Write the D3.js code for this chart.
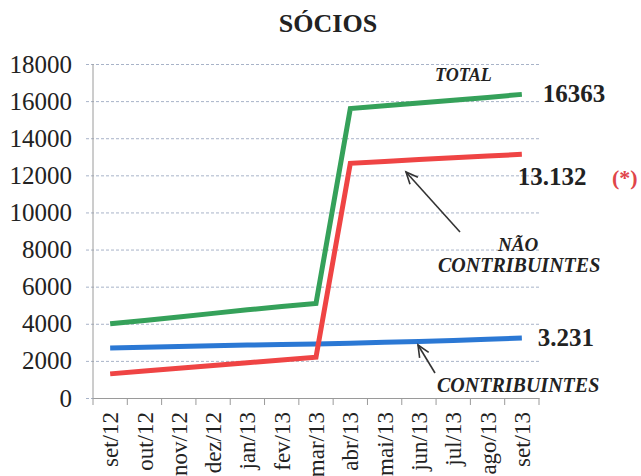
<!DOCTYPE html>
<html>
<head>
<meta charset="utf-8">
<script src="https://cdn.jsdelivr.net/npm/d3@7"></script>
<style>
  body { margin: 0; background: #fff; }
  svg { display: block; }
  svg text { font-family: "Liberation Serif", "Times New Roman", serif; }
</style>
</head>
<body>
<svg id="chart" width="641" height="476"></svg>
<script>
// months on the x axis
const months = ["set/12", "out/12", "nov/12", "dez/12", "jan/13", "fev/13", "mar/13",
  "abr/13", "mai/13", "jun/13", "jul/13", "ago/13", "set/13"];

// members per month
const total = [4000, 4180, 4370, 4560, 4750, 4930, 5100, 15600, 15750, 15900, 16050, 16200, 16363];
const naoContribuintes = [1300, 1450, 1600, 1750, 1900, 2050, 2200, 12650, 12750, 12850, 12950, 13040, 13132];
const contribuintes = [2700, 2730, 2770, 2810, 2850, 2880, 2910, 2950, 3000, 3050, 3100, 3160, 3231];

const yTicks = [0, 2000, 4000, 6000, 8000, 10000, 12000, 14000, 16000, 18000];
const endLabels = ["16363", "13.132", "3.231"];

const svg = d3.select("#chart");

const margin = { left: 93, right: 539, top: 64, bottom: 398 };

const x = d3.scaleBand().domain(months).range([margin.left, margin.right]).padding(0);
const y = d3.scaleLinear().domain([0, 18000]).range([margin.bottom, margin.top]);
const cx = (i) => x(months[i]) + x.bandwidth() / 2;

// title
svg.append("text")
  .attr("x", 328)
  .attr("y", 32)
  .attr("text-anchor", "middle")
  .style("font-size", "26px")
  .style("font-weight", "bold")
  .attr("fill", "#222")
  .text("SÓCIOS");

// gridlines + y labels
const yAxis = svg.append("g")
  .attr("transform", `translate(${margin.right},0)`)
  .call(d3.axisLeft(y).tickValues(yTicks).tickFormat(d3.format("d"))
    .tickSize(margin.right - 86).tickPadding(14));
yAxis.attr("font-family", null).attr("font-size", null);
yAxis.select(".domain").remove();
yAxis.selectAll(".tick line")
  .attr("stroke", "#a8b3c8")
  .attr("stroke-width", 1)
  .attr("stroke-dasharray", "3,2");
yAxis.selectAll(".tick text")
  .style("font-size", "25px")
  .attr("fill", "#222");

// vertical axis line
svg.append("line")
  .attr("x1", margin.left).attr("x2", margin.left)
  .attr("y1", y(18000)).attr("y2", y(0))
  .attr("stroke", "#9a9a9a");

// x axis
const xAxis = svg.append("g")
  .attr("transform", `translate(0,${margin.bottom})`)
  .call(d3.axisBottom(x).tickSize(0));
xAxis.attr("font-family", null).attr("font-size", null);
xAxis.select(".domain").attr("stroke", "#9a9a9a");
xAxis.selectAll(".tick text")
  .attr("transform", "rotate(-90)")
  .attr("x", -14)
  .attr("y", 0)
  .attr("dy", "0.35em")
  .style("text-anchor", "end")
  .style("font-size", "23px")
  .attr("fill", "#222");

// tick marks between months
svg.append("g")
  .selectAll("line")
  .data(months.concat(["end"]))
  .enter()
  .append("line")
  .attr("x1", (d, i) => margin.left + i * x.step())
  .attr("x2", (d, i) => margin.left + i * x.step())
  .attr("y1", margin.bottom)
  .attr("y2", margin.bottom + 7)
  .attr("stroke", "#9a9a9a");

// lines
const line = d3.line().x((d, i) => cx(i)).y((d) => y(d));

const series = [
  { values: contribuintes, color: "#2b78d4" },
  { values: naoContribuintes, color: "#ef4444" },
  { values: total, color: "#35a15a" },
];

series.forEach((s) => {
  svg.append("path")
    .datum(s.values)
    .attr("fill", "none")
    .attr("stroke", s.color)
    .attr("stroke-width", 5)
    .attr("stroke-linejoin", "miter")
    .attr("d", line);
});

// annotations
const last = months.length - 1;

function label(txt, xx, yy, size, italic, color) {
  svg.append("text")
    .attr("x", xx)
    .attr("y", yy)
    .style("font-size", size + "px")
    .style("font-weight", "bold")
    .style("font-style", italic ? "italic" : "normal")
    .attr("fill", color || "#222")
    .text(txt);
}

label("TOTAL", 435, 81, 18, true);
label(endLabels[0], cx(last) + 21, y(total[last]) + 8, 25, false);
label(endLabels[1], cx(last) - 4, y(naoContribuintes[last]) + 31, 25, false);
label("(*)", 612, 185, 22, false, "#e0454a");
label("NÃO", 498, 251, 19, true);
label("CONTRIBUINTES", 438, 272, 20, true);
label(endLabels[2], cx(last) + 16, y(contribuintes[last]) + 8, 25, false);
label("CONTRIBUINTES", 437, 392, 20, true);

// arrows
function arrow(x1, y1, x2, y2) {
  const a = Math.atan2(y2 - y1, x2 - x1);
  const h = 13, w = 0.42;
  svg.append("line")
    .attr("x1", x1).attr("y1", y1).attr("x2", x2).attr("y2", y2)
    .attr("stroke", "#333").attr("stroke-width", 1.6);
  svg.append("path")
    .attr("d", `M${x2 - h * Math.cos(a - w)},${y2 - h * Math.sin(a - w)}L${x2},${y2}L${x2 - h * Math.cos(a + w)},${y2 - h * Math.sin(a + w)}`)
    .attr("fill", "none")
    .attr("stroke", "#333")
    .attr("stroke-width", 1.6);
}

arrow(460, 232, 406, 172);
arrow(435, 373, 418, 345);
</script>
</body>
</html>
